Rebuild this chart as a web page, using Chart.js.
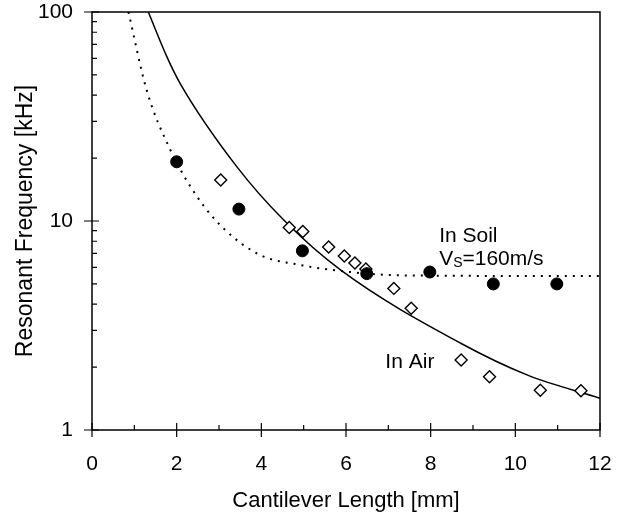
<!DOCTYPE html>
<html><head><meta charset="utf-8">
<script src="https://cdn.jsdelivr.net/npm/chart.js@4.4.0/dist/chart.umd.min.js"></script>
<style>html,body{margin:0;padding:0;background:#fff;}</style>
</head><body>
<canvas id="c" width="627" height="515"></canvas>
<script>
// ---- data ----
const soilLength = [2.0, 3.47, 4.97, 6.49, 7.98, 9.48, 10.98];
const soilFreq   = [19.2, 11.4, 7.2, 5.6, 5.7, 5.0, 5.0];
const airLength  = [3.04, 4.66, 4.98, 5.59, 5.96, 6.21, 6.47, 7.13, 7.54, 8.72, 9.39, 10.59, 11.55];
const airFreq    = [15.7, 9.3, 8.9, 7.5, 6.8, 6.3, 5.9, 4.76, 3.82, 2.16, 1.80, 1.55, 1.54];
const airCurveLength  = [1.33, 1.77, 2.08, 3.42, 4.53, 5.87, 8.71, 10.29, 12];
const airCurveFreq    = [100, 61, 45.6, 18.2, 10.1, 5.83, 2.6, 1.83, 1.42];
const soilCurveLength = [0.86, 1.29, 1.85, 2.48, 3.11, 3.97, 4.92, 6.03, 7.0, 8.5, 12];
const soilCurveFreq   = [100, 42.4, 21.9, 13.1, 9.2, 6.88, 6.16, 5.72, 5.52, 5.47, 5.45];
const xTickValues = [0, 2, 4, 6, 8, 10, 12];
const xTickLabels = ['0', '2', '4', '6', '8', '10', '12'];
const xMinorTicks = [1, 3, 5, 7, 9, 11];
const yTickValues = [1, 10, 100];
const yTickLabels = ['1', '10', '100'];
const yMinorTicks = [2, 3, 4, 5, 6, 7, 8, 9, 20, 30, 40, 50, 60, 70, 80, 90];
const xTitle = 'Cantilever Length [mm]';
const yTitle = 'Resonant Frequency [kHz]';

const pts = (xs, ys) => xs.map((x, i) => ({x, y: ys[i]}));
const FONT = '"Liberation Sans", Arial, sans-serif';

const framePlugin = {
  id: 'frame',
  afterDatasetsDraw(chart) {
    const {ctx, chartArea: a, scales: {x, y}} = chart;
    ctx.save();
    ctx.strokeStyle = '#000';
    ctx.lineWidth = 1.5;
    ctx.strokeRect(a.left, a.top, a.right - a.left, a.bottom - a.top);
    ctx.beginPath();
    xTickValues.forEach(v => { const p = x.getPixelForValue(v); ctx.moveTo(p, a.bottom - 7); ctx.lineTo(p, a.bottom + 7); });
    xMinorTicks.forEach(v => { const p = x.getPixelForValue(v); ctx.moveTo(p, a.bottom); ctx.lineTo(p, a.bottom - 5); });
    yTickValues.forEach(v => { const p = y.getPixelForValue(v); ctx.moveTo(a.left - 8, p); ctx.lineTo(a.left + 7, p); });
    yMinorTicks.forEach(v => { const p = y.getPixelForValue(v); ctx.moveTo(a.left, p); ctx.lineTo(a.left + 5, p); });
    ctx.lineWidth = 1.2;
    ctx.stroke();

    // annotations
    ctx.fillStyle = '#000';
    ctx.textBaseline = 'alphabetic';
    ctx.textAlign = 'left';
    ctx.font = '21px ' + FONT;
    let px = x.getPixelForValue(8.2), py = y.getPixelForValue(7.96);
    ctx.fillText('In Soil', px, py);
    py = y.getPixelForValue(6.16);
    ctx.fillText('V', px, py);
    let w = ctx.measureText('V').width;
    ctx.font = '14px ' + FONT;
    ctx.fillText('S', px + w, py + 2);
    w += ctx.measureText('S').width;
    ctx.font = '21px ' + FONT;
    ctx.fillText('=160m/s', px + w, py);
    ctx.fillText('In Air', x.getPixelForValue(6.93), y.getPixelForValue(1.98));
    ctx.restore();
  }
};

const noPad = s => { s.paddingTop = 0; s.paddingBottom = 0; s.paddingLeft = 0; s.paddingRight = 0; };

new Chart(document.getElementById('c'), {
  type: 'scatter',
  data: {
    datasets: [
      { label: 'In Soil (measured)', data: pts(soilLength, soilFreq), pointStyle: 'circle', pointRadius: 6,
        backgroundColor: '#000', borderColor: '#000', borderWidth: 1, order: 1 },
      { label: 'In Air (measured)', data: pts(airLength, airFreq), pointStyle: 'rectRot', pointRadius: 6,
        backgroundColor: '#fff', borderColor: '#000', borderWidth: 1.4, order: 1 },
      { label: 'In Air (model)', data: pts(airCurveLength, airCurveFreq), showLine: true, pointRadius: 0,
        borderColor: '#000', borderWidth: 1.5, cubicInterpolationMode: 'monotone', order: 2 },
      { label: 'In Soil (model)', data: pts(soilCurveLength, soilCurveFreq), showLine: true, pointRadius: 0,
        borderColor: '#000', borderWidth: 2, borderDash: [2, 6], cubicInterpolationMode: 'monotone', order: 2 }
    ]
  },
  options: {
    responsive: false,
    animation: false,
    devicePixelRatio: 1,
    layout: { padding: { left: 0, top: 12, right: 27, bottom: 0 } },
    plugins: { legend: { display: false }, tooltip: { enabled: false } },
    scales: {
      x: {
        type: 'linear', min: 0, max: 12,
        afterBuildTicks: s => { s.ticks = xTickValues.map(v => ({value: v})); },
        afterFit: s => { s.height = 85; noPad(s); },
        grid: { display: false, drawTicks: false, tickLength: 0 },
        border: { display: false },
        ticks: { color: '#000', font: { family: FONT, size: 21 }, padding: 22, maxRotation: 0, autoSkip: false,
                 callback: v => xTickLabels[xTickValues.indexOf(v)] },
        title: { display: true, text: xTitle, color: '#000', font: { family: FONT, size: 22 }, padding: { top: 0, bottom: 1 } }
      },
      y: {
        type: 'logarithmic', min: 1, max: 100,
        afterBuildTicks: s => { s.ticks = yTickValues.map(v => ({value: v})); },
        afterFit: s => { s.width = 92; noPad(s); },
        grid: { display: false, drawTicks: false, tickLength: 0 },
        border: { display: false },
        ticks: { color: '#000', font: { family: FONT, size: 21 }, padding: 19, autoSkip: false,
                 callback: v => yTickLabels[yTickValues.indexOf(v)] },
        title: { display: true, text: yTitle, color: '#000', font: { family: FONT, size: 23 }, padding: { top: 12, bottom: 0 } }
      }
    }
  },
  plugins: [framePlugin]
});
</script>
</body></html>
